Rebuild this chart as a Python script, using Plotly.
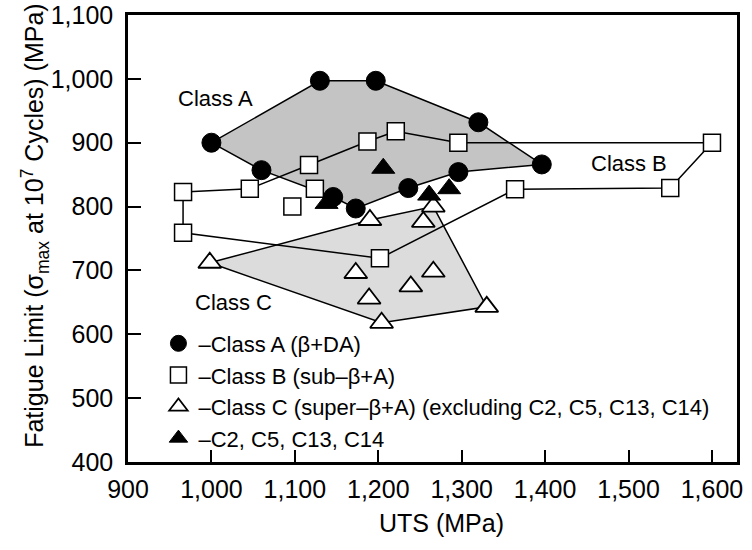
import plotly.graph_objects as go

# Class A (beta + DA): outline vertices in drawing order
a_uts = [1000, 1130, 1197, 1320, 1396, 1296, 1236, 1173, 1146, 1060]
a_fl = [900, 997, 997, 932, 866, 854, 829, 797, 815, 857]

# Class B (sub-beta + A): outline vertices, then two loose points
b_uts = [966, 1046, 1117, 1187, 1221, 1296, 1600, 1550, 1364, 1202, 966]
b_fl = [823, 828, 865, 902, 918, 900, 900, 829, 827, 719, 759]
b_extra_uts = [1124, 1097]
b_extra_fl = [828, 800]

# Class C (super-beta + A): outline vertices, then interior points
c_uts = [998, 1190, 1266, 1330, 1204]
c_fl = [712, 779, 800, 643, 618]
c_inner_uts = [1254, 1173, 1189, 1239, 1266]
c_inner_fl = [776, 696, 656, 675, 698]

# Alloys C2, C5, C13, C14
d_uts = [1206, 1138, 1261, 1285]
d_fl = [860, 805, 818, 828]

x_ticks = [900, 1000, 1100, 1200, 1300, 1400, 1500, 1600]
y_ticks = [400, 500, 600, 700, 800, 900, 1000, 1100]

FONT = "Liberation Sans, Arial, sans-serif"


def closed(v):
    return list(v) + [v[0]]


fig = go.Figure()

# shaded regions with outlines
fig.add_trace(go.Scatter(x=closed(c_uts), y=closed(c_fl), mode="lines", fill="toself",
                         fillcolor="#dcdcdc", line=dict(color="black", width=1.5),
                         showlegend=False, hoverinfo="skip"))
fig.add_trace(go.Scatter(x=closed(a_uts), y=closed(a_fl), mode="lines", fill="toself",
                         fillcolor="#c4c4c4", line=dict(color="black", width=1.5),
                         showlegend=False, hoverinfo="skip"))
fig.add_trace(go.Scatter(x=closed(b_uts), y=closed(b_fl), mode="lines",
                         line=dict(color="black", width=1.5),
                         showlegend=False, hoverinfo="skip"))

# markers
fig.add_trace(go.Scatter(x=a_uts, y=a_fl, mode="markers", name="\u2013Class A (\u03b2+DA)",
                         marker=dict(symbol="circle", size=19, color="black",
                                     line=dict(color="black", width=1))))
fig.add_trace(go.Scatter(x=b_uts + b_extra_uts, y=b_fl + b_extra_fl,
                         mode="markers", name="\u2013Class B (sub\u2013\u03b2+A)",
                         marker=dict(symbol="square", size=17, color="white",
                                     line=dict(color="black", width=1.5))))
fig.add_trace(go.Scatter(x=c_uts + c_inner_uts, y=c_fl + c_inner_fl, mode="markers",
                         name="\u2013Class C (super\u2013\u03b2+A) (excluding C2, C5, C13, C14)",
                         marker=dict(symbol="triangle-up", size=20, color="white",
                                     line=dict(color="black", width=1.8))))
fig.add_trace(go.Scatter(x=d_uts, y=d_fl, mode="markers", name="\u2013C2, C5, C13, C14",
                         marker=dict(symbol="triangle-up", size=20, color="black",
                                     line=dict(color="black", width=1))))

# region labels
for txt, x, y in [("Class A", 1005, 969), ("Class B", 1500, 867), ("Class C", 1026, 650)]:
    fig.add_annotation(x=x, y=y, text=txt, showarrow=False,
                       font=dict(family=FONT, size=22, color="black"))

axis_common = dict(showgrid=False, zeroline=False, showline=True, linecolor="black",
                   linewidth=2.5, mirror=True, ticks="inside", tickcolor="black",
                   tickwidth=1.5, tickformat=",d", automargin=False,
                   tickfont=dict(family=FONT, size=25, color="black"))

fig.update_xaxes(range=[900, 1630], tickvals=x_ticks, ticklen=12, ticklabelstandoff=3,
                 **axis_common)
fig.update_yaxes(range=[400, 1100], tickvals=y_ticks, ticklen=13, ticklabelstandoff=7,
                 **axis_common)

fig.add_annotation(xref="paper", yref="paper", x=0.5, y=-0.137, yanchor="middle",
                   text="UTS (MPa)", showarrow=False, xshift=9,
                   font=dict(family=FONT, size=25, color="black"))
fig.add_annotation(xref="paper", yref="paper", x=-0.153, y=0.528, xanchor="center",
                   yanchor="middle", textangle=-90,
                   text="Fatigue Limit (\u03c3<sub>max</sub> at 10<sup>7</sup> Cycles) (MPa)",
                   showarrow=False, font=dict(family=FONT, size=25, color="black"))

fig.update_layout(
    width=752, height=550,
    margin=dict(l=128, r=15, t=15, b=88, autoexpand=False),
    paper_bgcolor="white", plot_bgcolor="white",
    font=dict(family=FONT, color="black"),
    legend=dict(x=0.05, y=0.312, xanchor="left", yanchor="top",
                bgcolor="rgba(0,0,0,0)", borderwidth=0,
                font=dict(family=FONT, size=22, color="black"),
                itemwidth=30, tracegroupgap=0),
)

fig.write_html("out.html")
